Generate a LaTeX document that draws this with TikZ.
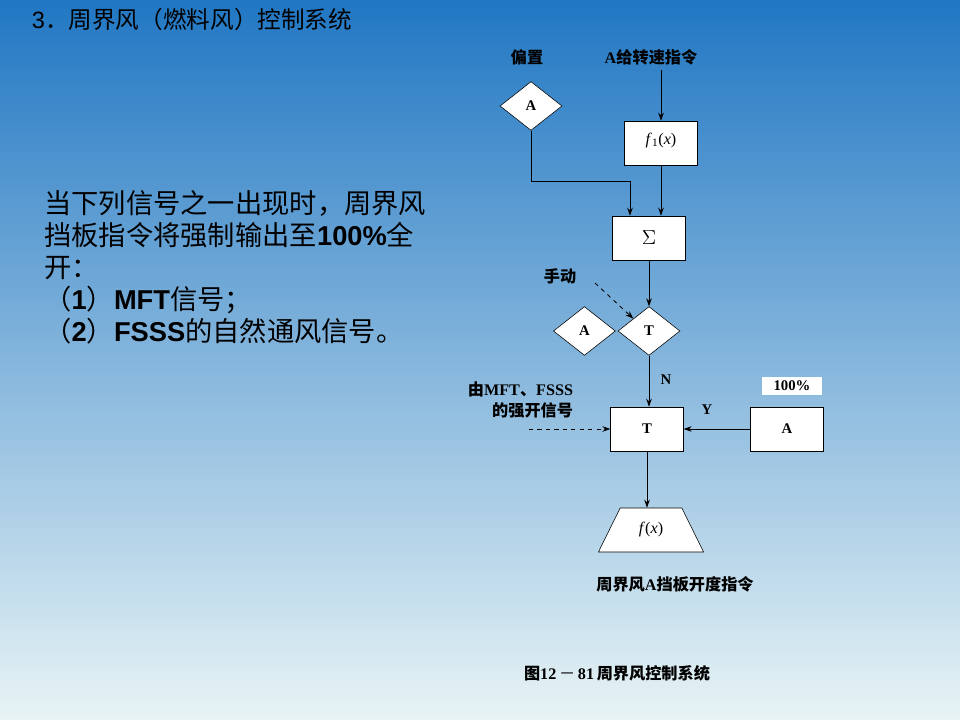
\documentclass[tikz,border=0pt]{standalone}
\usepackage{fontspec}
\setmainfont{Liberation Serif}
\newfontfamily\cjk{Noto Sans CJK SC}
\newfontfamily\arialf{Liberation Sans}
\usetikzlibrary{
  positioning,
  arrows.meta,
  shapes.geometric
}
\definecolor{bgtop}{HTML}{2177C3}
\definecolor{bgmid}{HTML}{88C0E0}
\definecolor{bgbot}{HTML}{E8F4F5}
\newcommand{\rmb}[1]{{\rmfamily\bfseries #1}}
\newcommand{\ari}[1]{{\arialf\bfseries #1}}

\begin{document}
\begin{tikzpicture}[
  x=0.025cm, y=-0.025cm,
  blk/.style={draw, fill=white, minimum width=1.82cm, minimum height=1.1cm, inner sep=0pt,
              font=\rmfamily\bfseries\fontsize{10.5}{12}\selectfont},
  dia/.style={draw, fill=white, diamond, minimum width=1.55cm, minimum height=1.22cm, inner sep=0pt,
              font=\rmfamily\bfseries\fontsize{10.5}{12}\selectfont},
  lbl/.style={font=\cjk\bfseries\fontsize{11.5}{15}\selectfont},
  yn/.style={font=\rmfamily\bfseries\fontsize{10.5}{12}\selectfont},
  arr/.style={-{Stealth[length=2mm,width=1.4mm]}, semithick},
]
  % background
  \useasboundingbox (0,0) rectangle (960,720);
  \shade[top color=bgtop, middle color=bgmid, bottom color=bgbot] (0,0) rectangle (960,720);

  % title and note (LEFT)
  \node[anchor=west, font=\cjk\fontsize{16.8}{19}\selectfont] (title) at (27,20)
    {{\arialf 3}．周界风（燃料风）控制系统};
  \node[anchor=north west, align=left, inner sep=0pt, font=\cjk\fontsize{19.4}{22.8}\selectfont] (note) at (44,190)
    {当下列信号之一出现时，周界风\\
     挡板指令将强制输出至\ari{100\%}全\\
     开：\\
     （\ari{1}）\ari{MFT}信号；\\
     （\ari{2}）\ari{FSSS}的自然通风信号。};

  % control loop (RIGHT)
  \node[lbl] (biaslbl) at (527,57) {偏置};
  \node[lbl] (speedlbl) at (651,57) {\rmb{A}给转速指令};
  \node[dia] (biasA) at (531,106) {A};
  \node[blk] (f1) at (661,143) {};
  \node[below=0.18cm of f1.north, font=\rmfamily\fontsize{11.5}{12}\selectfont] (f1txt)
    {\textit{f}\textsubscript{1}(\textit{x})};
  \node[blk, font=\rmfamily\fontsize{14}{14}\selectfont] (sum) at (649,238) {$\Sigma$};
  \node[lbl] (manlbl) at (560,276) {手动};
  \node[dia] (tsw) at (649,331) {T};
  \node[dia, left=0.05cm of tsw] (manA) {A};
  \node[blk] (tbox) at (647,429) {T};
  \node[blk] (hA) at (787,429) {A};
  \node[fill=white, minimum width=1.5cm, minimum height=0.45cm, inner sep=0pt, yn] (pct) at (792,386) {100\%};
  \node[yn] (nlbl) at (666,380) {N};
  \node[yn] (ylbl) at (707,410) {Y};
  \node[lbl, align=right, anchor=east] (forcelbl) at (578,400) {由\rmb{MFT}、\rmb{FSSS}\\的强开信号};
  \node[draw, fill=white, trapezium, trapezium left angle=60, trapezium right angle=60,
        trapezium stretches=true, minimum width=2.63cm, minimum height=1.1cm, inner sep=0pt,
        font=\rmfamily\fontsize{11.5}{12}\selectfont] (fx) at (651,530) {\textit{f}(\textit{x})};
  \node[lbl] (outlbl) at (675,584) {周界风\rmb{A}挡板开度指令};
  \node[lbl] (caption) at (617,673) {图\rmb{12}\,{\mdseries －}\,\rmb{81}\,周界风控制系统};

  \coordinate (bend) at (630,181);
  \coordinate (manstart) at (595,283);
  \coordinate (forcestart) at (529,429);

  \draw[arr] (f1.north |- speedlbl.south) -- (f1.north);
  \draw[arr] (biasA) |- (bend) -- (bend |- sum.north);
  \draw[arr] (f1.south) -- (f1.south |- sum.north);
  \draw[arr] (sum) -- (tsw);
  \draw[arr, dashed] (manstart) -- (tsw.north west);
  \draw[arr] (tsw.south) -- (tsw.south |- tbox.north);
  \draw[arr] (hA) -- (tbox);
  \draw[arr, dashed] (forcestart) -- (tbox);
  \draw[arr] (tbox.south) -- (tbox.south |- fx.north);
\end{tikzpicture}
\end{document}
